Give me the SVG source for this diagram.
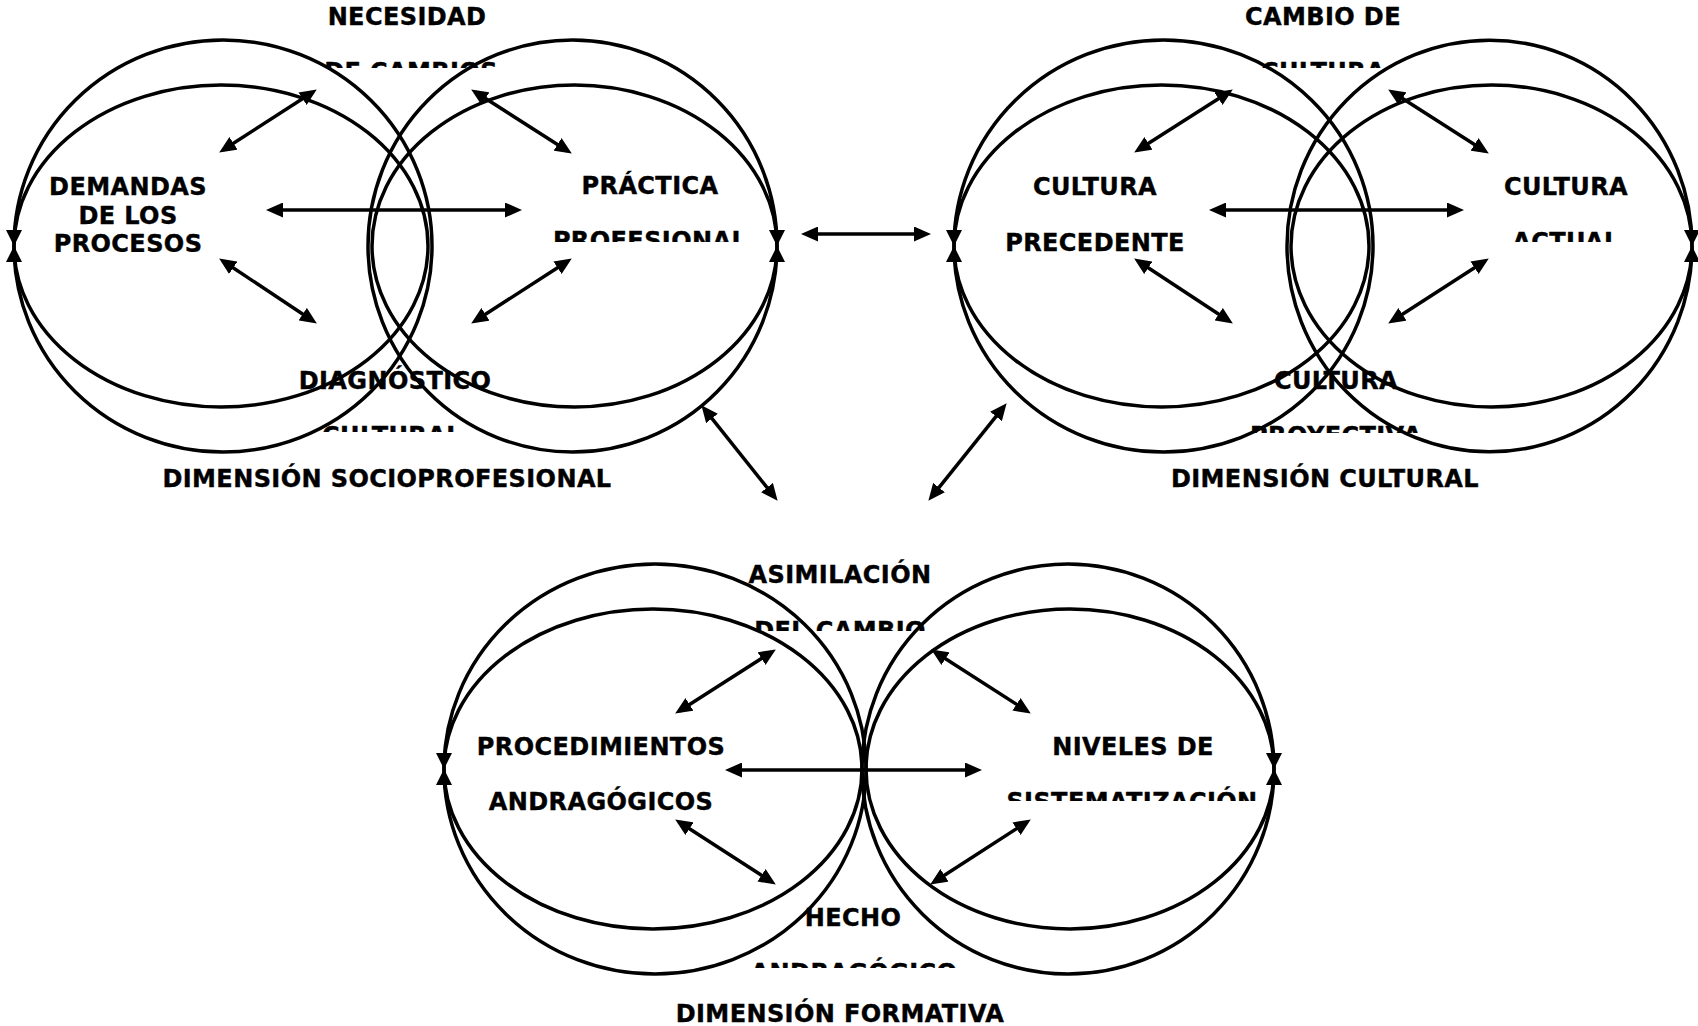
<svg xmlns="http://www.w3.org/2000/svg" width="1698" height="1026" viewBox="0 0 1698 1026">
  <style>
    .ring { fill: none; stroke: #000; stroke-width: 3.5; }
    .ring-arc { fill: none; stroke: #000; stroke-width: 3.5; marker-end: url(#ring-tip); }
    .link { fill: none; stroke: #000; stroke-width: 3.5; marker-start: url(#tip); marker-end: url(#tip); }
    .lbl { font-family: "DejaVu Sans", Verdana, sans-serif; font-weight: bold; font-size: 24px; fill: #000; stroke: #000; stroke-width: 0.4; text-anchor: middle; letter-spacing: 0.4px; }
  </style>
  <defs>
    <!-- arrowhead for the double-headed connectors -->
    <marker id="tip" viewBox="0 0 17 15" refX="12" refY="7.5" markerWidth="17" markerHeight="15" markerUnits="userSpaceOnUse" orient="auto-start-reverse">
      <path d="M0,0 L17,7.5 L0,15 z" fill="#000"/>
    </marker>
    <!-- arrowhead closing each circular arc -->
    <marker id="ring-tip" viewBox="0 0 16 16" refX="16" refY="8" markerWidth="16" markerHeight="16" markerUnits="userSpaceOnUse" orient="auto">
      <path d="M0,0 L16,8 L0,16 z" fill="#000"/>
    </marker>
    <!-- text boxes whose second line overflows and is cut -->
    <clipPath id="clip-cambios"><rect x="250" y="30" width="330" height="38"/></clipPath>
    <clipPath id="clip-procesos"><rect x="20" y="160" width="220" height="92"/></clipPath>
    <clipPath id="clip-profesional"><rect x="540" y="170" width="220" height="72"/></clipPath>
    <clipPath id="clip-cultural"><rect x="290" y="400" width="210" height="32"/></clipPath>
    <clipPath id="clip-cultura-top"><rect x="1240" y="30" width="170" height="38"/></clipPath>
    <clipPath id="clip-actual"><rect x="1490" y="170" width="160" height="72"/></clipPath>
    <clipPath id="clip-proyectiva"><rect x="1240" y="400" width="200" height="33"/></clipPath>
    <clipPath id="clip-cambio"><rect x="720" y="590" width="240" height="41"/></clipPath>
    <clipPath id="clip-sistematizacion"><rect x="990" y="770" width="290" height="31"/></clipPath>
    <clipPath id="clip-andragogico"><rect x="740" y="935" width="230" height="33"/></clipPath>
  </defs>

  <!-- DIMENSIÓN SOCIOPROFESIONAL -->
  <g id="ring-demandas">
    <path class="ring-arc" d="M432,246 A209,206 0 0 0 14,246"/>
    <path class="ring-arc" d="M432,246 A209,206 0 0 1 14,246"/>
    <ellipse class="ring" cx="221" cy="246" rx="207" ry="161"/>
  </g>
  <g id="ring-practica">
    <path class="ring-arc" d="M368,246 A204.5,206 0 0 1 777,246"/>
    <path class="ring-arc" d="M368,246 A204.5,206 0 0 0 777,246"/>
    <ellipse class="ring" cx="574.5" cy="246" rx="202.5" ry="161"/>
  </g>
  <g id="node-necesidad">
    <text class="lbl" x="407" y="25">NECESIDAD</text>
    <text class="lbl" x="411" y="80" clip-path="url(#clip-cambios)">DE CAMBIOS</text>
  </g>
  <g id="node-demandas" clip-path="url(#clip-procesos)">
    <text class="lbl" x="128" y="195">DEMANDAS</text>
    <text class="lbl" x="128" y="223.5">DE LOS</text>
    <text class="lbl" x="128" y="252">PROCESOS</text>
  </g>
  <g id="node-practica">
    <text class="lbl" x="650" y="194">PRÁCTICA</text>
    <text class="lbl" x="650" y="249" clip-path="url(#clip-profesional)">PROFESIONAL</text>
  </g>
  <g id="node-diagnostico">
    <text class="lbl" x="395" y="389">DIAGNÓSTICO</text>
    <text class="lbl" x="392" y="444" clip-path="url(#clip-cultural)">CULTURAL</text>
  </g>
  <g id="title-socioprofesional">
    <text class="lbl" x="387" y="487">DIMENSIÓN SOCIOPROFESIONAL</text>
  </g>

  <!-- DIMENSIÓN CULTURAL -->
  <g id="ring-precedente">
    <path class="ring-arc" d="M1373,246 A209.5,206 0 0 0 954,246"/>
    <path class="ring-arc" d="M1373,246 A209.5,206 0 0 1 954,246"/>
    <ellipse class="ring" cx="1161.5" cy="246" rx="207.5" ry="161"/>
  </g>
  <g id="ring-actual">
    <path class="ring-arc" d="M1287,246 A202.5,206 0 0 1 1692,246"/>
    <path class="ring-arc" d="M1287,246 A202.5,206 0 0 0 1692,246"/>
    <ellipse class="ring" cx="1491.5" cy="246" rx="200.5" ry="161"/>
  </g>
  <g id="node-cambio-cultura">
    <text class="lbl" x="1323" y="25">CAMBIO DE</text>
    <text class="lbl" x="1323" y="80" clip-path="url(#clip-cultura-top)">CULTURA</text>
  </g>
  <g id="node-cultura-precedente">
    <text class="lbl" x="1095" y="195">CULTURA</text>
    <text class="lbl" x="1095" y="251">PRECEDENTE</text>
  </g>
  <g id="node-cultura-actual">
    <text class="lbl" x="1566" y="195">CULTURA</text>
    <text class="lbl" x="1566" y="250" clip-path="url(#clip-actual)">ACTUAL</text>
  </g>
  <g id="node-cultura-proyectiva">
    <text class="lbl" x="1336" y="389">CULTURA</text>
    <text class="lbl" x="1336" y="444" clip-path="url(#clip-proyectiva)">PROYECTIVA</text>
  </g>
  <g id="title-cultural">
    <text class="lbl" x="1325" y="487">DIMENSIÓN CULTURAL</text>
  </g>

  <!-- DIMENSIÓN FORMATIVA -->
  <g id="ring-procedimientos">
    <path class="ring-arc" d="M866,769 A211,205 0 0 0 444,769"/>
    <path class="ring-arc" d="M866,769 A211,205 0 0 1 444,769"/>
    <ellipse class="ring" cx="653" cy="769" rx="209" ry="160"/>
  </g>
  <g id="ring-niveles">
    <path class="ring-arc" d="M862,769 A206,205 0 0 1 1274,769"/>
    <path class="ring-arc" d="M862,769 A206,205 0 0 0 1274,769"/>
    <ellipse class="ring" cx="1070" cy="769" rx="204" ry="160"/>
  </g>
  <g id="node-asimilacion">
    <text class="lbl" x="840" y="583">ASIMILACIÓN</text>
    <text class="lbl" x="840" y="639" clip-path="url(#clip-cambio)">DEL CAMBIO</text>
  </g>
  <g id="node-procedimientos">
    <text class="lbl" x="601" y="755">PROCEDIMIENTOS</text>
    <text class="lbl" x="601" y="810">ANDRAGÓGICOS</text>
  </g>
  <g id="node-niveles">
    <text class="lbl" x="1133" y="755">NIVELES DE</text>
    <text class="lbl" x="1132" y="810" clip-path="url(#clip-sistematizacion)">SISTEMATIZACIÓN</text>
  </g>
  <g id="node-hecho">
    <text class="lbl" x="853" y="926">HECHO</text>
    <text class="lbl" x="854" y="981" clip-path="url(#clip-andragogico)">ANDRAGÓGICO</text>
  </g>
  <g id="title-formativa">
    <text class="lbl" x="840" y="1022">DIMENSIÓN FORMATIVA</text>
  </g>

  <!-- connectors -->
  <g id="connectors">
    <line class="link" x1="223.4" y1="149.8" x2="312.6" y2="92.2"/>
    <line class="link" x1="475.4" y1="92.1" x2="567.6" y2="150.9"/>
    <line class="link" x1="223.3" y1="261.2" x2="312.7" y2="320.8"/>
    <line class="link" x1="567.6" y1="261.2" x2="475.4" y2="320.8"/>
    <line class="link" x1="271" y1="210" x2="517" y2="210"/>

    <line class="link" x1="1138.4" y1="149.8" x2="1228.6" y2="92.2"/>
    <line class="link" x1="1392.4" y1="92.1" x2="1484.6" y2="150.9"/>
    <line class="link" x1="1138.3" y1="261.2" x2="1228.7" y2="320.8"/>
    <line class="link" x1="1484.6" y1="261.2" x2="1392.4" y2="320.8"/>
    <line class="link" x1="1214" y1="210" x2="1459" y2="210"/>

    <line class="link" x1="679.4" y1="710.9" x2="771.6" y2="652.1"/>
    <line class="link" x1="935.4" y1="652.2" x2="1026.6" y2="710.8"/>
    <line class="link" x1="679.4" y1="822.2" x2="771.6" y2="881.8"/>
    <line class="link" x1="1026.6" y1="822.2" x2="934.4" y2="881.8"/>
    <line class="link" x1="730" y1="770" x2="977" y2="770"/>

    <line class="link" x1="806" y1="234" x2="926" y2="234"/>
    <line class="link" x1="704.5" y1="409.1" x2="774.5" y2="496.9"/>
    <line class="link" x1="1003.5" y1="407.1" x2="931.5" y2="496.9"/>
  </g>
</svg>
